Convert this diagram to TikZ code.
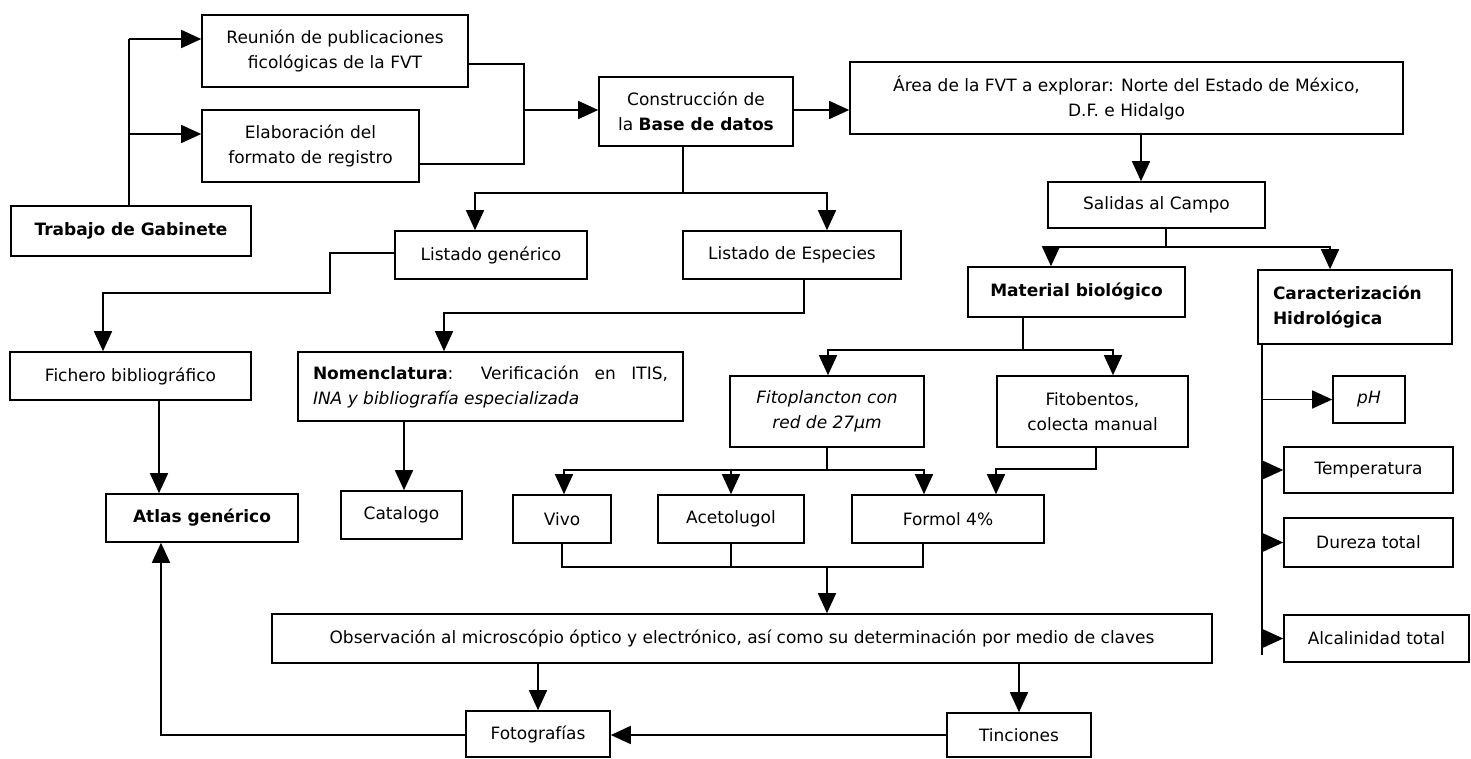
\documentclass[tikz,border=0pt]{standalone}
\usepackage{fontspec}
\setmainfont{DejaVu Sans}
\usetikzlibrary{arrows.meta}
\tikzset{
  box/.style={draw, line width=1.6pt, inner sep=0pt, align=center, font=\fontsize{17}{25}\selectfont},
  arr/.style={-{Triangle[length=20pt,width=18pt]}},
  conn/.style={line width=1.6pt},
}
\newcommand{\bx}[7][]{\node[box,#1, minimum width={(#4-#2)*1pt}, minimum height={(#5-#3)*1pt}] (#6) at ({(#2+#4)/2},{(#3+#5)/2}) {#7};}
\begin{document}
\begin{tikzpicture}[x=1pt,y=-1pt]
\useasboundingbox (0,0) rectangle (1471,758);
% boxes
\bx{202}{15}{468}{87}{reun}{Reunión de publicaciones\\ficológicas de la FVT}
\bx{202}{110}{419}{182}{elab}{Elaboración del\\formato de registro}
\bx{11}{206}{251}{256}{trab}{\textbf{Trabajo de Gabinete}}
\bx{599}{77}{793}{146}{cons}{Construcción de\\la \textbf{Base de datos}}
\bx{850}{62}{1403}{134}{area}{Área de la FVT a explorar: Norte del Estado de México,\\D.F. e Hidalgo}
\bx{1048}{182}{1265}{228}{sal}{Salidas al Campo}
\bx{395}{231}{587}{279}{lgen}{Listado genérico}
\bx{683}{231}{901}{279}{lesp}{Listado de Especies}
\bx{968}{267}{1185}{317}{mat}{\textbf{Material biológico}}
\bx[align=left,text width=164pt,inner xsep=15pt]{1258}{270}{1452}{344}{car}{\textbf{Caracterización}\\\textbf{Hidrológica}}
\bx{10}{352}{251}{400}{fich}{Fichero bibliográfico}
\bx[align=justify,text width=355pt,inner xsep=15pt]{298}{352}{683}{421}{nom}{\textbf{Nomenclatura}: Verificación en ITIS,\linebreak\textit{INA y bibliografía especializada}}
\bx{730}{376}{924}{447}{fitop}{\textit{Fitoplancton con}\\\textit{red de 27µm}}
\bx{997}{376}{1188}{447}{fitob}{Fitobentos,\\colecta manual}
\bx{1333}{376}{1405}{423}{ph}{\textit{pH}}
\bx{1284}{447}{1453}{493}{temp}{Temperatura}
\bx{1284}{518}{1453}{567}{dur}{Dureza total}
\bx{1284}{615}{1469}{662}{alc}{Alcalinidad total}
\bx{106}{494}{298}{542}{atlas}{\textbf{Atlas genérico}}
\bx{341}{491}{462}{539}{cat}{Catalogo}
\bx{513}{495}{611}{543}{vivo}{Vivo}
\bx{658}{495}{804}{543}{acet}{Acetolugol}
\bx{852}{495}{1044}{543}{form}{Formol 4\%}
\bx{272}{614}{1212}{663}{obs}{Observación al microscópio óptico y electrónico, así como su determinación por medio de claves}
\bx{466}{711}{610}{757}{foto}{Fotografías}
\bx{947}{713}{1091}{757}{tinc}{Tinciones}
% connectors
\begin{scope}[conn]
\coordinate (tj) at (129,39);
\draw (trab.north -| 129,0) -- (tj);
\draw[arr] (tj) -- (reun.west |- tj);
\draw[arr] (129,134) -- (elab.west |- 0,134);
\draw (reun.east |- 0,64) -| (524,164) -- (elab.east |- 0,164);
\draw[arr] (524,110) -- (cons.west |- 0,110);
\draw[arr] (cons.east |- 0,110) -- (area.west |- 0,110);
\draw (cons.south -| 683,0) -- (683,193);
\draw[arr] (683,193) -| (lgen.north -| 475,0);
\draw[arr] (683,193) -| (lesp.north -| 827,0);
\draw[arr] (lgen.west |- 0,253) -| (330,293) -| (fich.north -| 103,0);
\draw[arr] (lesp.south -| 804,0) -- (804,313) -| (nom.north -| 444,0);
\draw[arr] (fich.south -| 159,0) -- (atlas.north -| 159,0);
\draw[arr] (nom.south -| 404,0) -- (cat.north -| 404,0);
\draw[arr] (area.south -| 1141,0) -- (sal.north -| 1141,0);
\draw (sal.south -| 1166,0) -- (1166,247);
\draw[arr] (1166,247) -| (mat.north -| 1051,0);
\draw[arr] (1166,247) -| (car.north -| 1330,0);
\draw (mat.south -| 1023,0) -- (1023,350);
\draw[arr] (1023,350) -| (fitop.north -| 828,0);
\draw[arr] (1023,350) -| (fitob.north -| 1113,0);
\draw (fitop.south) -- (827,470);
\draw[arr] (827,470) -| (vivo.north -| 564,0);
\draw[arr] (827,470) -| (acet.north -| 731,0);
\draw[arr] (827,470) -| (form.north -| 924,0);
\draw[arr] (fitob.south -| 1096,0) -- (1096,469) -| (form.north -| 996,0);
\draw (vivo.south) -- (562,567) -- (923,567) -- (form.south -| 923,0);
\draw (acet.south -| 731,0) -- (731,567);
\draw[arr] (827,567) -- (obs.north -| 827,0);
\draw[arr] (obs.south -| 538,0) -- (foto.north -| 538,0);
\draw[arr] (obs.south -| 1019,0) -- (tinc.north -| 1019,0);
\draw[arr] (tinc.west |- 0,735) -- (foto.east |- 0,735);
\draw[arr] (foto.west |- 0,735) -| (atlas.south -| 161,0);
\draw (car.south -| 1262,0) -- (1262,655);
\draw[arr] (1262,0 |- ph.west) -- (ph.west);
\draw[arr] (1262,0 |- temp.west) -- (temp.west);
\draw[arr] (1262,0 |- dur.west) -- (dur.west);
\draw[arr] (1262,0 |- alc.west) -- (alc.west);
\end{scope}
\end{tikzpicture}
\end{document}
